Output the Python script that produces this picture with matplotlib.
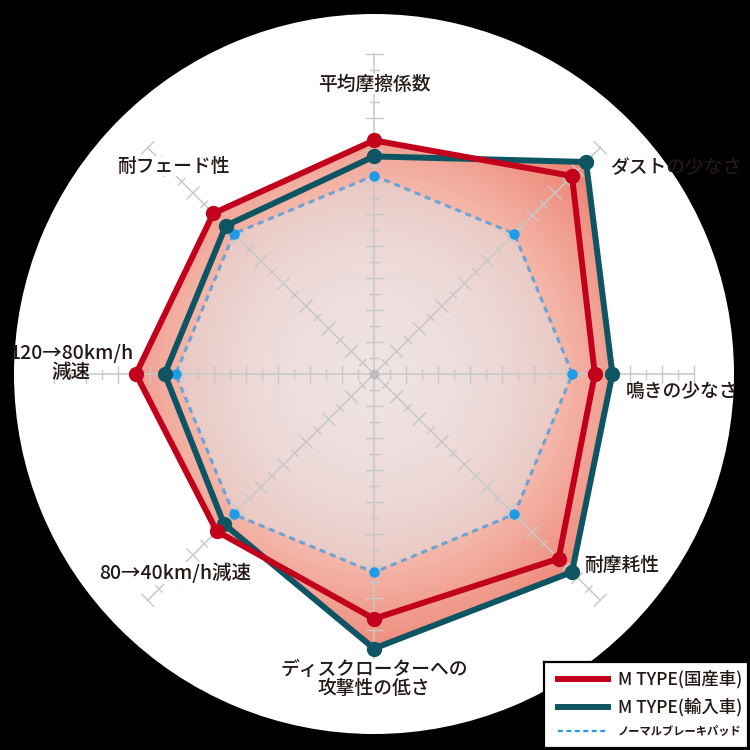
import numpy as np
import matplotlib
matplotlib.use("Agg")
import matplotlib.pyplot as plt
from matplotlib.colors import LinearSegmentedColormap
from matplotlib.lines import Line2D

plt.rcParams['font.family'] = ['Noto Sans CJK JP', 'DejaVu Sans']

# ---- data (clockwise from top) ----
categories = ["平均摩擦係数", "ダストの少なさ", "鳴きの少なさ", "耐摩耗性",
              "ディスクローターへの\n攻撃性の低さ", "80→40km/h減速",
              "120→80km/h\n減速", "耐フェード性"]
mtype_domestic = [7.3, 8.75, 6.9, 8.16, 7.65, 6.95, 7.44, 7.1]
mtype_import = [6.8, 9.37, 7.45, 8.75, 8.58, 6.63, 6.54, 6.55]
normal_pad = [6.2, 6.2, 6.2, 6.2, 6.2, 6.2, 6.2, 6.2]
series_names = ["M TYPE(国産車)", "M TYPE(輸入車)", "ノーマルブレーキパッド"]
r_max_axis = 10

RED = "#c3001b"
TEAL = "#0e5563"
BLUE_LINE = "#6aa3d4"
BLUE_DOT = "#1d9be6"
TXT = "#231815"

W = H = 750
fig = plt.figure(figsize=(7.5, 7.5), dpi=100, facecolor="black")

cx, cy, R = 374, 374, 360  # pixel geometry of white disc
unit_px = 32.0
rlim = R / unit_px
ax = fig.add_axes([(cx - R) / W, (H - cy - R) / H, 2 * R / W, 2 * R / H],
                  projection="polar")
ax.set_facecolor("white")
ax.set_theta_zero_location("N")
ax.set_theta_direction(-1)
ax.set_ylim(0, rlim)
ax.grid(False)
ax.set_xticks([])
ax.set_yticks([])
ax.spines["polar"].set_visible(False)

n = len(categories)
theta = np.arange(n) * 2 * np.pi / n

def closed(v):
    return np.concatenate([v, v[:1]])

th_c = closed(theta)

# ---- gradient fills ----
tg = np.linspace(0, 2 * np.pi, 361)
rg = np.linspace(0, r_max_axis, 121)
TT, RR = np.meshgrid(tg, rg)

outer_cmap = LinearSegmentedColormap.from_list(
    "outer", [(0.0, "#f6dcd4"), (0.6, "#f3b5a7"), (0.95, "#ec7e6e"), (1.0, "#ec7a6a")])
inner_cmap = LinearSegmentedColormap.from_list(
    "inner", [(0.0, "#efe6e6"), (0.6, "#eddad8"), (1.0, "#e9c6c0")])

for vals in (mtype_domestic, mtype_import):
    poly = ax.fill(th_c, closed(np.array(vals)), facecolor="none", edgecolor="none")[0]
    m = ax.pcolormesh(TT, RR, RR, cmap=outer_cmap, vmin=0, vmax=r_max_axis,
                      shading="gouraud", zorder=1)
    m.set_clip_path(poly)

poly_n = ax.fill(th_c, closed(np.array(normal_pad)), facecolor="none", edgecolor="none")[0]
m = ax.pcolormesh(TT, RR, RR, cmap=inner_cmap, vmin=0, vmax=6.4,
                  shading="gouraud", zorder=1.1)
m.set_clip_path(poly_n)

# ---- axis lines with ticks ----
AX_COL = "#c8c8c8"
for t in theta:
    ax.plot([t, t], [0, r_max_axis], color=AX_COL, lw=1.1, zorder=2)
    for k in range(1, 2 * r_max_axis + 1):
        r = k / 2
        h = (8.5 if k % 2 == 0 else 4.5) / unit_px
        rr = np.hypot(r, h)
        dt = np.arctan2(h, r)
        ax.plot([t - dt, t + dt], [rr, rr], color=AX_COL, lw=1.0, zorder=2)
ax.plot([0], [0], marker="o", ms=6, color="#bdbdbd", zorder=2.2)

# ---- series ----
ax.plot(th_c, closed(np.array(normal_pad)), color=BLUE_LINE, lw=2.2,
        linestyle=(0, (2.0, 1.6)), zorder=3)
ax.plot(theta, normal_pad, "o", color=BLUE_DOT, ms=6.5, zorder=3.1)
ax.plot(th_c, closed(np.array(mtype_import)), color=TEAL, lw=4.3, zorder=4,
        solid_joinstyle="miter")
ax.plot(theta, mtype_import, "o", color=TEAL, ms=10, zorder=4.1)
ax.plot(th_c, closed(np.array(mtype_domestic)), color=RED, lw=4.3, zorder=5,
        solid_joinstyle="miter")
ax.plot(theta, mtype_domestic, "o", color=RED, ms=10, zorder=5.1)

# ---- category labels ----
def ft(x, y, s, ha="center", va="center", size=13.5, box=True, **kw):
    t = ax.text(x / W, 1 - y / H, s, ha=ha, va=va, fontsize=size, color=TXT,
                transform=fig.transFigure, zorder=6, fontweight="medium",
                bbox=dict(facecolor="white", edgecolor="none", pad=0.5) if box else None,
                **kw)
    return t

ft(374, 84, categories[0])
ft(610, 167, categories[1], ha="left", box=False)
ft(626, 391, categories[2], ha="left", box=False)
ft(584, 565, categories[3], ha="left")
ft(374, 679, categories[4], linespacing=1.0)
ft(175, 573, categories[5], size=14)
ft(71, 363, categories[6], size=14, linespacing=1.0, box=False)
ft(173, 166, categories[7])

# ---- legend ----
lx0, ly0, lx1, ly1 = 544, 662, 748, 748
lax = fig.add_axes([lx0 / W, 1 - ly1 / H, (lx1 - lx0) / W, (ly1 - ly0) / H])
lax.set_xlim(0, lx1 - lx0)
lax.set_ylim(ly1 - ly0, 0)
lax.set_facecolor("white")
lax.set_xticks([])
lax.set_yticks([])
for s in lax.spines.values():
    s.set_color("black")
    s.set_linewidth(1.6)
legend_styles = [
    dict(color=RED, lw=4.3),
    dict(color=TEAL, lw=4.3),
    dict(color=BLUE_DOT, lw=1.6, linestyle=(0, (2.2, 1.6))),
]
legend_y = [17, 45, 69]
legend_size = [12.5, 12.5, 8.1]
for name, st, y, fs in zip(series_names, legend_styles, legend_y, legend_size):
    lax.add_line(Line2D([14, 64], [y, y], **st))
    lax.text(74, y, name, ha="left", va="center", fontsize=fs, color=TXT,
             fontweight="bold" if fs < 10 else "medium")

fig.savefig("out.png", dpi=100, facecolor="black")
